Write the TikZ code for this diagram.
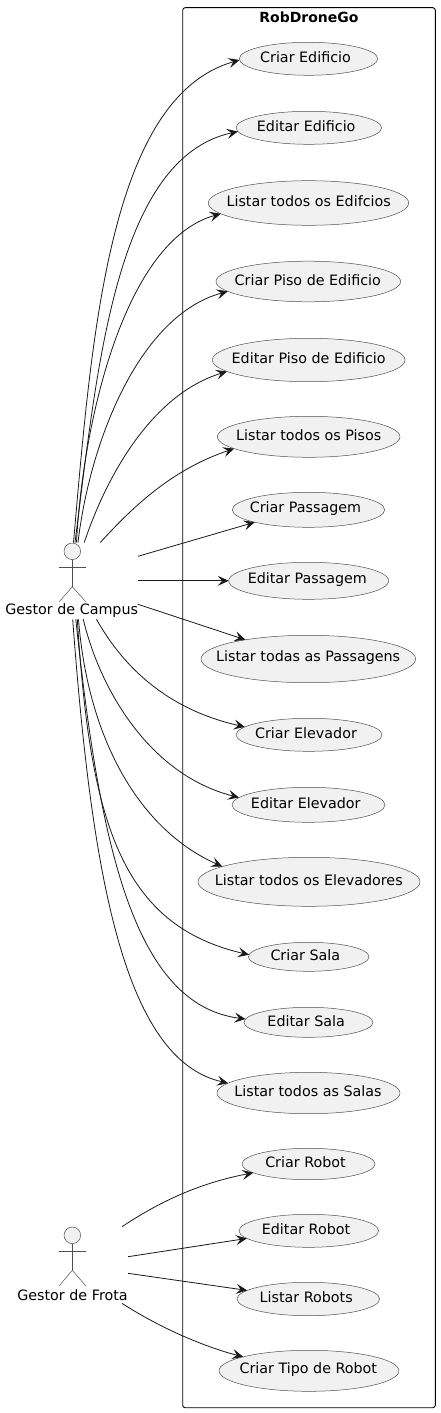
\documentclass[tikz,border=0pt]{standalone}
\usepackage{fontspec}
\setmainfont{DejaVu Sans}
\usetikzlibrary{arrows.meta,shapes.geometric}
\definecolor{ink}{HTML}{181818}
\definecolor{thinink}{HTML}{505050}
\definecolor{ucfill}{HTML}{F1F1F1}
\tikzset{
  ucase/.style={ellipse,draw=thinink,line width=.5pt,fill=ucfill,inner sep=0pt,outer sep=0pt},
  uctext/.style={font=\fontsize{14.3}{16}\selectfont,text=black,inner sep=0pt,yshift=1.6pt},
  link/.style={draw=ink,line width=.8pt,-{Stealth[length=11pt,width=10pt,inset=4.5pt]}},
  limb/.style={draw=thinink,line width=.5pt},
  head/.style={circle,draw=thinink,line width=.5pt,fill=ucfill,minimum size=16.6pt,inner sep=0pt,outer sep=0pt},
  actorname/.style={font=\fontsize{14.3}{16}\selectfont,text=black,inner sep=0pt},
  sysframe/.style={draw=black,line width=.9pt,rounded corners=2.5pt},
  systitle/.style={font=\fontsize{14}{16}\selectfont\bfseries,text=black,inner sep=0pt}
}
\newcommand{\usecasenode}[7]{\node[ucase,minimum width=#4pt,minimum height=#5pt,label={[uctext,xshift=#7pt]center:#6}] (#1) at (#2,#3) {};}
\begin{document}
\begin{tikzpicture}[x=1pt,y=-1pt]
\useasboundingbox (0,0) rectangle (440,1413);
\draw[sysframe] (182.7,7.7) rectangle (435.3,1407.7);
\node[systitle] (title) at (309,17) {RobDroneGo};

\usecasenode{u1}{308.5}{58.8}{138.4}{33}{Criar Edificio}{-3}
\usecasenode{u2}{308.8}{127.8}{145.6}{33}{Editar Edificio}{-2.6}
\usecasenode{u3}{308.5}{203}{200.4}{44.6}{Listar todos os Edifcios}{0.2}
\usecasenode{u4}{308.3}{281.5}{184.6}{40.6}{Criar Piso de Edificio}{-0.5}
\usecasenode{u5}{308.7}{360}{192.6}{43.4}{Editar Piso de Edificio}{0}
\usecasenode{u6}{308.7}{436.8}{182.6}{41}{Listar todos os Pisos}{0}
\usecasenode{u7}{308.5}{509.8}{152.4}{35}{Criar Passagem}{-3}
\usecasenode{u8}{308.7}{580.8}{160}{37}{Editar Passagem}{-1.4}
\usecasenode{u9}{308.3}{659}{214.6}{47.4}{Listar todas as Passagens}{-0.1}
\usecasenode{u10}{309}{734.8}{146}{33}{Criar Elevador}{-3}
\usecasenode{u11}{308.5}{804.8}{153}{35}{Editar Elevador}{-2.7}
\usecasenode{u12}{309}{881.8}{222}{49}{Listar todos os Elevadores}{-0.2}
\usecasenode{u13}{308.7}{956.8}{120.6}{29}{Criar Sala}{-3.4}
\usecasenode{u14}{308.5}{1022.3}{129}{30}{Editar Sala}{-2.3}
\usecasenode{u15}{308.5}{1093}{183}{41.4}{Listar todos as Salas}{-0.5}
\usecasenode{u16}{308.5}{1164}{133}{31.4}{Criar Robot}{-3}
\usecasenode{u17}{308.8}{1230.8}{139.6}{33}{Editar Robot}{-2.8}
\usecasenode{u18}{308.3}{1299}{142.6}{33.4}{Listar Robots}{-2.1}
\usecasenode{u19}{309}{1370.8}{180}{41}{Criar Tipo de Robot}{-0.7}

% Gestor de Campus
\node[head] (gchead) at (72.3,551.3) {};
\coordinate (gchip) at (72.3,586.7);
\coordinate (gcarml) at (59.3,567);
\coordinate (gcarmr) at (85.7,567);
\coordinate (gclegl) at (59.3,601.7);
\coordinate (gclegr) at (85.7,601.7);
\draw[limb] (gchead.south) -- (gchip);
\draw[limb] (gcarml) -- (gcarmr);
\draw[limb] (gclegl) -- (gchip) -- (gclegr);
\node[actorname] (gc) at (71.7,611) {Gestor de Campus};

% Gestor de Frota
\node[head] (gfhead) at (72.3,1235.3) {};
\coordinate (gfhip) at (72.3,1270.3);
\coordinate (gfarml) at (59.3,1251.3);
\coordinate (gfarmr) at (85.7,1251.3);
\coordinate (gflegl) at (59.3,1285.7);
\coordinate (gflegr) at (85.7,1285.7);
\draw[limb] (gfhead.south) -- (gfhip);
\draw[limb] (gfarml) -- (gfarmr);
\draw[limb] (gflegl) -- (gfhip) -- (gflegr);
\node[actorname] (gf) at (72.5,1295) {Gestor de Frota};

% start points around the actors
\coordinate (s1) at (73.5,542.5);
\coordinate (s2) at (75,542.5);
\coordinate (s3) at (76.5,542.5);
\coordinate (s4) at (78,542.5);
\coordinate (s5) at (84.3,542.5);
\coordinate (s6) at (100.3,542.5);
\coordinate (s7) at (138,556.3);
\coordinate (s8) at (138,580.8);
\coordinate (s9) at (138,604.3);
\coordinate (s10) at (96.5,619.3);
\coordinate (s11) at (83.3,619.3);
\coordinate (s12) at (78.5,619.3);
\coordinate (s13) at (77.3,619.3);
\coordinate (s14) at (75.8,619.3);
\coordinate (s15) at (72.7,619.3);
\coordinate (s16) at (122,1226.7);
\coordinate (s17) at (128,1256.7);
\coordinate (s18) at (128,1273.3);
\coordinate (s19) at (122,1303.3);

\draw[link] (s1) .. controls (92,330) and (110,97) .. (u1.181.8);
\draw[link] (s2) .. controls (97,370) and (115,158) .. (u2.183.2);
\draw[link] (s3) .. controls (83,420) and (125,240) .. (u3.187.5);
\draw[link] (s4) .. controls (90,440) and (140,315) .. (u4.187.3);
\draw[link] (s5) .. controls (105,480) and (150,395) .. (u5.188.4);
\draw[link] (s6) .. controls (130,510) and (170,470) .. (u6.189.6);
\draw[link] (s7) -- (u7.193.3);
\draw[link] (s8) -- (u8.180);
\draw[link] (s9) -- (u9.163.3);
\draw[link] (s10) .. controls (125,670) and (170,710) .. (u10.173.3);
\draw[link] (s11) .. controls (100,690) and (150,775) .. (u11.174.6);
\draw[link] (s12) .. controls (88,740) and (140,830) .. (u12.170.3);
\draw[link] (s13) .. controls (90,820) and (120,925) .. (u13.178.3);
\draw[link] (s14) .. controls (100,850) and (135,1005) .. (u14.177.3);
\draw[link] (s15) .. controls (92,880) and (125,1060) .. (u15.173.2);
\draw[link] (s16) .. controls (165,1198) and (205,1182) .. (u16.189.1);
\draw[link] (s17) -- (u17.187.7);
\draw[link] (s18) -- (u18.172.1);
\draw[link] (s19) .. controls (160,1328) and (205,1347) .. (u19.168.8);
\end{tikzpicture}
\end{document}
